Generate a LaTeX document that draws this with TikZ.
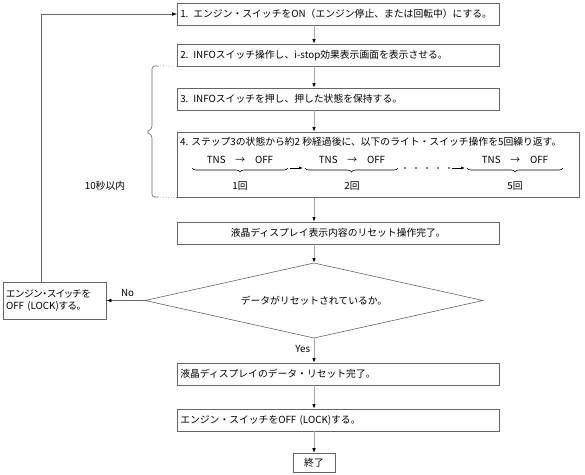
\documentclass[tikz,border=0pt]{standalone}
\usepackage{fontspec}
\setmainfont{Noto Sans CJK JP}
\usetikzlibrary{arrows.meta,positioning,calc,decorations.pathreplacing}

\begin{document}
\begin{tikzpicture}[
    x=1pt, y=-1pt,
    font=\fontsize{9.8}{12}\selectfont,
    stepbox/.style={rectangle, draw=black!60, line width=0.6pt, anchor=north west, inner xsep=3pt, inner ysep=0pt, text width=#1, align=left, minimum height=21.5pt},
    stepbox/.default=316pt,
    arrow/.style={-{Latex[length=5pt, width=3.6pt, color=black]}, draw=black!35, line width=1pt},
    loopline/.style={-{Latex[length=5pt, width=3.6pt, color=black]}, draw=black!60, line width=0.6pt},
    smallarrow/.style={-{Latex[length=4pt, width=3pt]}, line width=0.6pt},
    brace/.style={decorate, decoration={brace, mirror, amplitude=4pt}, draw=black, line width=0.6pt}
]
    \useasboundingbox (0,0) rectangle (585,474);
    \coordinate (col) at (314,0);
    \coordinate (lx) at (41,0);

    % main steps
    \node [stepbox] (s1) at (177,3) {1. エンジン・スイッチをON（エンジン停止、または回転中）にする。};
    \node [stepbox] (s2) at (177,44) {2. INFOスイッチ操作し、i-stop効果表示画面を表示させる。};
    \node [stepbox] (s3) at (177,88) {3. INFOスイッチを押し、押した状態を保持する。};
    \node [stepbox=396pt, minimum height=65pt] (s4) at (177,132) {};
    \node [anchor=west, inner xsep=3pt] (s4t) at ($(s4.north west)+(0,10)$) {4. ステップ3の状態から約2 秒経過後に、以下のライト・スイッチ操作を5回繰り返す。};

    % light switch sequence
    \node (g1) at (240,160) {TNS\quad →\quad OFF};
    \node (g2) at (352,160) {TNS\quad →\quad OFF};
    \node (g3) at (515,160) {TNS\quad →\quad OFF};
    \coordinate (b1l) at (192,168);
    \coordinate (b1r) at (288,168);
    \coordinate (b2l) at (305,168);
    \coordinate (b2r) at (398,168);
    \coordinate (b3l) at (467,168);
    \coordinate (b3r) at (563,168);
    \draw [brace] (b1l) -- (b1r);
    \draw [brace] (b2l) -- (b2r);
    \draw [brace] (b3l) -- (b3r);
    \node (n1) at (240,186) {1回};
    \node (n2) at (352,186) {2回};
    \node (n3) at (515,186) {5回};
    \draw [smallarrow] (b1r) ++(2,0) -- ($(b2l)+(-2,0)$);
    \foreach \x in {405,416,...,449}
        \fill (\x,168) circle (0.8pt);
    \coordinate (d5) at (452,168);
    \draw [smallarrow] (d5) -- ($(b3l)+(-2,0)$);

    % 10 second bracket
    \draw [black!60, line width=0.6pt, rounded corners=3pt] (158,66) -- (152,66) -- (152,129) -- (146,132) -- (152,135) -- (152,197) -- (158,197);
    \draw [black!60, line width=0.6pt, dotted] (158,66) -- (s2.south west);
    \draw [black!60, line width=0.6pt, dotted] (158,197) -- (s4.south west);
    \node (limit) at (105,186) {10秒以内};

    \node [stepbox, align=center] (s5) at (177,222) {液晶ディスプレイ表示内容のリセット操作完了。};

    % decision
    \coordinate (jt) at (314,263);
    \coordinate (jb) at (314,338);
    \coordinate (jl) at (145,300.5);
    \coordinate (jr) at (483,300.5);
    \draw [black!60, line width=0.6pt] (jt) -- (jr) -- (jb) -- (jl) -- cycle;
    \node (judge) at (314,300.5) {データがリセットされているか。};

    \node [rectangle, draw=black!60, line width=0.6pt, align=left, inner xsep=3pt, minimum width=103pt, minimum height=37pt, text width=97pt, font=\fontsize{9.8}{12}\selectfont\addfontfeatures{RawFeature=+palt}] (off1) at (54.5,300.5) {エンジン・スイッチを\\OFF (LOCK)する。};
    \node [stepbox] (s6) at (177,363) {液晶ディスプレイのデータ・リセット完了。};
    \node [stepbox] (s7) at (177,409) {エンジン・スイッチをOFF (LOCK)する。};
    \node [rectangle, draw=black!60, line width=0.6pt, minimum width=42pt, minimum height=19pt, inner sep=0pt] (fin) at (314,463) {終了};

    % connectors
    \draw [arrow] (s1.south -| col) -- (s2.north -| col);
    \draw [arrow] (s2.south -| col) -- (s3.north -| col);
    \draw [arrow] (s3.south -| col) -- (s4.north -| col);
    \draw [arrow] (s4.south -| col) -- (s5.north -| col);
    \draw [arrow] (s5.south -| col) -- (jt);
    \draw [arrow] (jb) -- node [left, pos=0.45] {Yes} (s6.north -| col);
    \draw [arrow] (s6.south -| col) -- (s7.north -| col);
    \draw [arrow] (s7.south -| col) -- (fin.north);
    \draw [loopline] (jl) -- node [above, pos=0.45] {No} (off1.east);
    \draw [loopline] (off1.north -| lx) |- (s1.west);
\end{tikzpicture}
\end{document}
